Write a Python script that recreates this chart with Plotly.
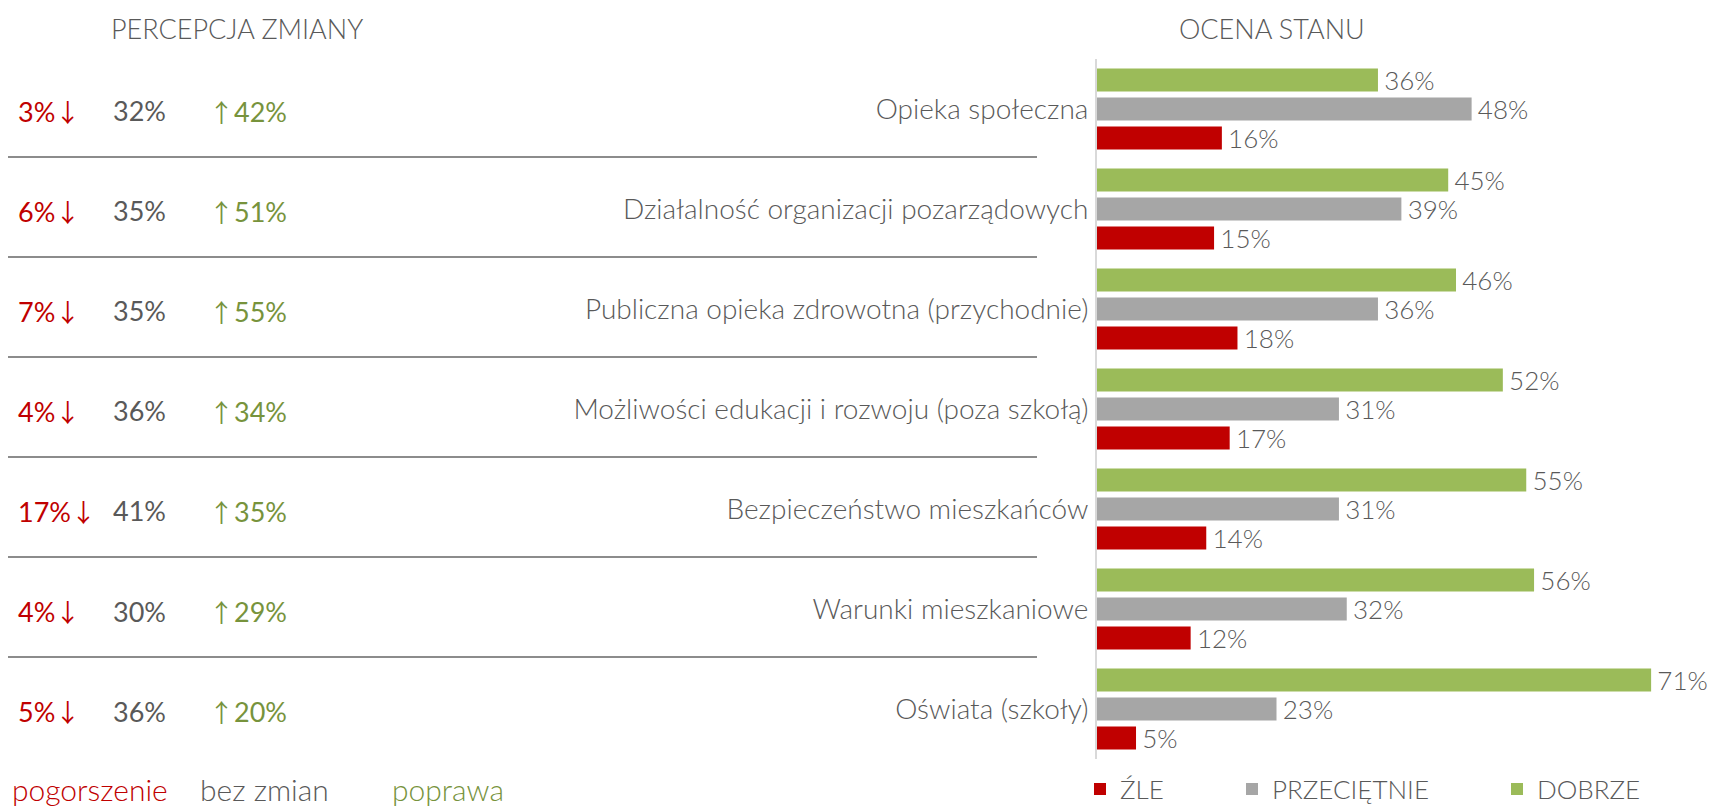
import plotly.graph_objects as go

W, H = 1712, 808

categories = [
    "Opieka społeczna",
    "Działalność organizacji pozarządowych",
    "Publiczna opieka zdrowotna (przychodnie)",
    "Możliwości edukacji i rozwoju (poza szkołą)",
    "Bezpieczeństwo mieszkańców",
    "Warunki mieszkaniowe",
    "Oświata (szkoły)",
]
zle = [16, 15, 18, 17, 14, 12, 5]
przecietnie = [48, 39, 36, 31, 31, 32, 23]
dobrze = [36, 45, 46, 52, 55, 56, 71]

pogorszenie = [3, 6, 7, 4, 17, 4, 5]
bez_zmian = [32, 35, 35, 36, 41, 30, 36]
poprawa = [42, 51, 55, 34, 35, 29, 20]

RED = "#C00000"
GRAY = "#A6A6A6"
GREEN = "#9BBB59"
TXT = "#595959"
GREEN_TXT = "#77933C"
FONT = "Lato"
ARROW = "<span style=\"font-family:'Noto Sans CJK SC';font-size:25px\">{}</span>"

def px_x(p):
    return p / W

def px_y(p):
    return 1 - p / H

fig = go.Figure()
series = [
    ("ŹLE", zle, RED, "legend"),
    ("PRZECIĘTNIE", przecietnie, GRAY, "legend2"),
    ("DOBRZE", dobrze, GREEN, "legend3"),
]
for name, vals, col, leg in series:
    fig.add_trace(go.Bar(
        y=categories, x=vals, orientation="h", name=name,
        marker=dict(color=col, line=dict(width=0)),
        text=[f"\u2009{v}%" for v in vals], textposition="outside",
        textfont=dict(family=FONT, size=26, color=TXT, weight=300),
        constraintext="none", cliponaxis=False,
        legend=leg, hoverinfo="skip",
    ))

annotations = []
# titles
annotations.append(dict(text="PERCEPCJA ZMIANY", x=px_x(237), y=px_y(28), xref="paper", yref="paper",
                        xanchor="center", yanchor="middle", showarrow=False,
                        font=dict(family=FONT, size=27, color=TXT, weight=300)))
annotations.append(dict(text="OCENA STANU", x=px_x(1272), y=px_y(28), xref="paper", yref="paper",
                        xanchor="center", yanchor="middle", showarrow=False,
                        font=dict(family=FONT, size=27, color=TXT, weight=300)))
# left perception columns
for cat, a, b, c in zip(categories, pogorszenie, bez_zmian, poprawa):
    annotations.append(dict(text=f"{a}%" + ARROW.format("↓"), x=px_x(16), y=cat, xref="paper", yref="y",
                            xanchor="left", yanchor="middle", showarrow=False, yshift=-2,
                            font=dict(family=FONT, size=27, color=RED)))
    annotations.append(dict(text=f"{b}%", x=px_x(111), y=cat, xref="paper", yref="y",
                            xanchor="left", yanchor="middle", showarrow=False, yshift=-2,
                            font=dict(family=FONT, size=27, color=TXT)))
    annotations.append(dict(text=ARROW.format("↑") + f"{c}%", x=px_x(207), y=cat, xref="paper", yref="y",
                            xanchor="left", yanchor="middle", showarrow=False, yshift=-2,
                            font=dict(family=FONT, size=27, color=GREEN_TXT)))
# left legend
for txt, xp, col in [("pogorszenie", 10, RED), ("bez zmian", 198, TXT), ("poprawa", 390, GREEN_TXT)]:
    annotations.append(dict(text=txt, x=px_x(xp), y=px_y(789), xref="paper", yref="paper",
                            xanchor="left", yanchor="middle", showarrow=False,
                            font=dict(family=FONT, size=30, color=col, weight=300)))

shapes = []
n = len(categories)
for k in range(n - 1):
    shapes.append(dict(type="line", xref="paper", yref="y",
                       x0=px_x(8), x1=px_x(1037), y0=k + 0.52, y1=k + 0.52,
                       line=dict(color="#8C8C8C", width=2)))

legend_common = dict(orientation="h", yanchor="middle", xanchor="left",
                     font=dict(family=FONT, size=26, color=TXT, weight=300),
                     bgcolor="rgba(0,0,0,0)", borderwidth=0, tracegroupgap=0)

fig.update_layout(
    width=W, height=H,
    margin=dict(l=0, r=0, t=0, b=0, autoexpand=False),
    paper_bgcolor="white", plot_bgcolor="white",
    barmode="group", bargap=0.13, bargroupgap=0.2,
    showlegend=True,
    legend=dict(x=px_x(1080), y=px_y(789), **legend_common),
    legend2=dict(x=px_x(1232), y=px_y(789), **legend_common),
    legend3=dict(x=px_x(1497), y=px_y(789), **legend_common),
    xaxis=dict(domain=[px_x(1097), 1], range=[0, 78.8], showgrid=False, zeroline=False,
               showticklabels=False, showline=False, fixedrange=True, automargin=False),
    yaxis=dict(domain=[px_y(759), px_y(59)], categoryorder="array",
               categoryarray=list(reversed(categories)),
               showgrid=False, zeroline=False, showline=True, linecolor="#D9D9D9", linewidth=2,
               ticks="", ticklabelstandoff=1, automargin=False,
               tickfont=dict(family=FONT, size=28, color=TXT, weight=300), fixedrange=True),
    annotations=annotations, shapes=shapes,
)

fig.write_html("out.html", config={"displayModeBar": False},
               post_script="document.body.style.margin='0';document.body.style.overflow='hidden';")
